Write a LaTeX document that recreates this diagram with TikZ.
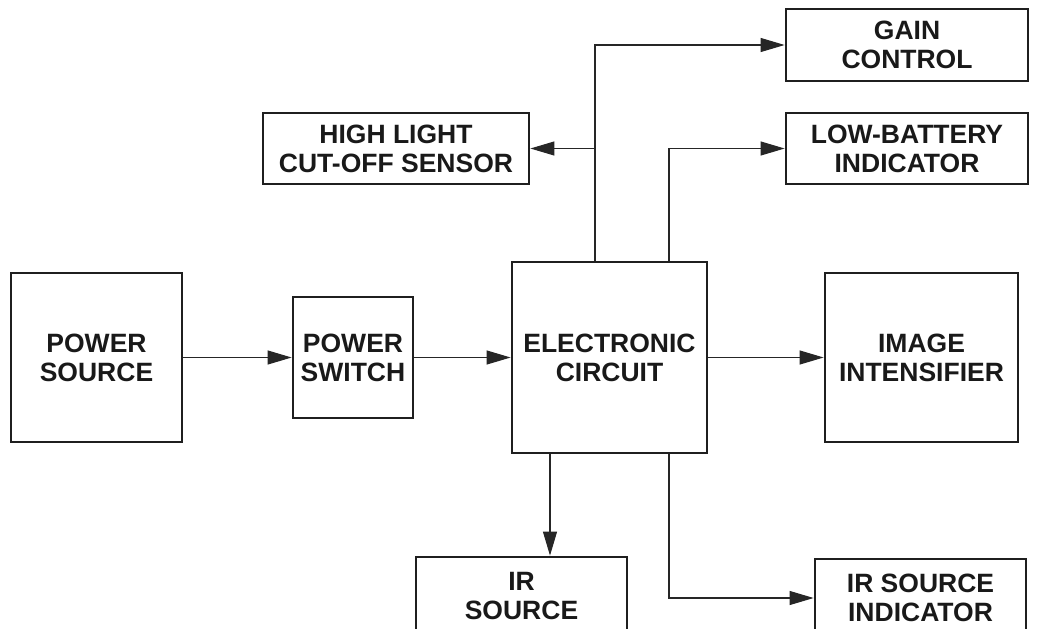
\documentclass[tikz,border=0pt]{standalone}
\usepackage{fontspec}
\setmainfont{Liberation Sans}
\usetikzlibrary{arrows.meta}
\begin{document}
\begin{tikzpicture}[x=1pt,y=-1pt,
  blk/.style={draw=black!88, line width=2.8pt, inner sep=0pt, align=center,
    font=\bfseries\fontsize{26.5}{29}\selectfont, text=black!90},
  arr/.style={draw=black!85, line width=1.1pt, -{Triangle[length=24pt,width=14pt]}},
  ln/.style={draw=black!85, line width=1.1pt}]
\useasboundingbox (0,0) rectangle (1042,629);
\clip (0,0) rectangle (1042,629);
\node[blk, minimum width=242pt, minimum height=72pt] (gain) at (907,45) {GAIN\\CONTROL};
\node[blk, minimum width=266pt, minimum height=71pt] (hlcs) at (396,148.5) {HIGH LIGHT\\CUT-OFF SENSOR};
\node[blk, minimum width=242pt, minimum height=71pt] (lowbat) at (907,148.5) {LOW-BATTERY\\INDICATOR};
\node[blk, minimum width=171pt, minimum height=169pt] (psrc) at (96.5,357.5) {POWER\\SOURCE};
\node[blk, minimum width=120pt, minimum height=121pt] (psw) at (353,357.5) {POWER\\SWITCH};
\node[blk, minimum width=195pt, minimum height=191pt] (ec) at (609.5,357.5) {ELECTRONIC\\CIRCUIT};
\node[blk, minimum width=193pt, minimum height=169pt] (ii) at (921.5,357.5) {IMAGE\\INTENSIFIER};
\node[blk, minimum width=211pt, minimum height=78pt] (irs) at (521.5,596) {IR\\SOURCE};
\node[blk, minimum width=211pt, minimum height=78pt] (irsi) at (920.5,598) {IR SOURCE\\INDICATOR};
\coordinate (ta) at (595,0);
\coordinate (tb) at (669,0);
\coordinate (ba) at (550,0);
\coordinate (bb) at (669,0);
\draw[arr] (psrc.east) -- (psw.west);
\draw[arr] (psw.east) -- (ec.west);
\draw[arr] (ec.east) -- (ii.west);
\draw[arr] (ta |- ec.north) |- (gain.west);
\draw[arr] (ta |- hlcs.east) -- (hlcs.east);
\draw[arr] (tb |- ec.north) |- (lowbat.west);
\draw[arr] (ba |- ec.south) -- (ba |- irs.north);
\draw[arr] (bb |- ec.south) |- (irsi.west);
\end{tikzpicture}
\end{document}
